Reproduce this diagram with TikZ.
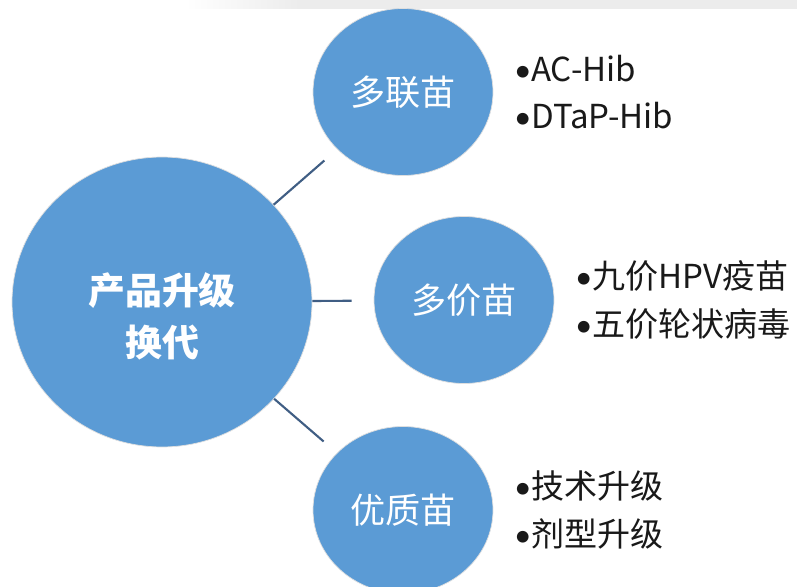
\documentclass[tikz,border=0pt]{standalone}
\usepackage{fontspec}
\setmainfont{Noto Sans CJK SC}
\newfontfamily\latinfont{Carlito}
\usetikzlibrary{
  positioning,
  shapes.geometric
}
\definecolor{vaxblue}{RGB}{91,155,213}
\definecolor{linkblue}{RGB}{64,94,132}
\definecolor{topgray}{RGB}{236,236,236}
\newcommand{\bul}{{\latinfont •}}

\begin{document}
\begin{tikzpicture}[
  x=0.02cm, y=-0.02cm,
  hub/.style={
    ellipse,
    fill=vaxblue,
    draw=gray!25,
    line width=0.4pt,
    inner sep=0pt,
    minimum width=6cm,
    minimum height=5.8cm
  },
  hubtext/.style={
    text=white,
    align=center,
    font=\fontsize{21}{29.5}\selectfont\bfseries
  },
  kind/.style={
    ellipse,
    fill=vaxblue,
    draw=gray!25,
    line width=0.4pt,
    inner sep=0pt,
    minimum width=3.6cm,
    minimum height=3.34cm,
    text=white,
    font=\fontsize{20}{24}\selectfont
  },
  list/.style={
    align=left,
    inner sep=0pt,
    text=black!90,
    font=\fontsize{18.8}{26.8}\selectfont
  },
  link/.style={draw=linkblue, line width=1.2pt}
]
\clip (0,0) rectangle (797,587);
\fill[white] (0,0) rectangle (797,587);

% faded bar along the top edge
\shade[left color=white, right color=topgray] (185,0) rectangle (300,9);
\fill[topgray] (300,0) rectangle (797,9);

\node[hub, label={[hubtext, yshift=-0.28cm]center:产品升级\\换代}] (hub) at (162,302) {};

\node[kind] (lian) at (403,92) {多联苗};
\node[kind] (jia) at (464,300) {多价苗};
\node[kind] (zhi) at (403,510) {优质苗};

\node[list, right=0.42cm of lian] (lianlist) {\bul AC-Hib\\\bul DTaP-Hib};
\node[list, right=0.42cm of jia] (jialist) {\bul 九价HPV疫苗\\\bul 五价轮状病毒};
\node[list, right=0.42cm of zhi] (zhilist) {\bul 技术升级\\\bul 剂型升级};

\draw[link, shorten >=0.34cm] (hub) -- (lian);
\draw[link, shorten >=0.44cm] (hub) -- (jia);
\draw[link, shorten >=0.35cm] (hub) -- (zhi);

\end{tikzpicture}
\end{document}
